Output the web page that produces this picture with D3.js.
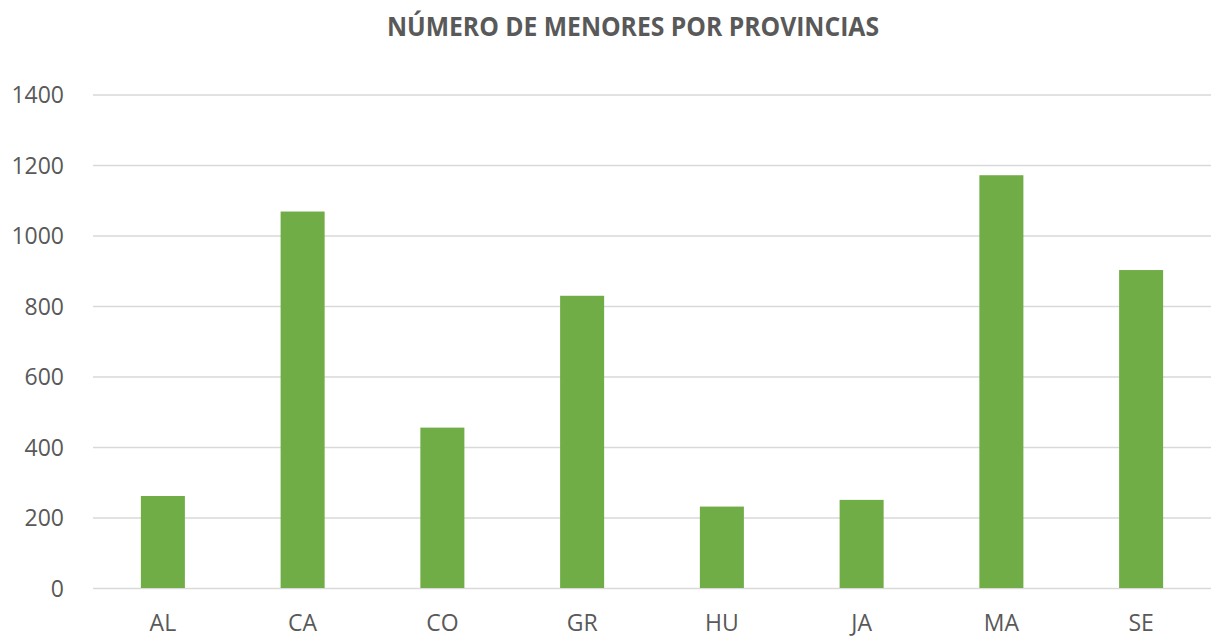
<!DOCTYPE html>
<html><head><meta charset="utf-8">
<script src="https://cdn.jsdelivr.net/npm/d3@7"></script>
<style>body{margin:0;background:#fff;} svg{display:block;}</style>
</head><body>
<svg id="c" width="1211" height="638"></svg>
<script>
const categories = ["AL","CA","CO","GR","HU","JA","MA","SE"];
const values = [261, 1068, 455, 829, 231, 250, 1171, 902];
const yTicks = [0,200,400,600,800,1000,1200,1400];
const title = "NÚMERO DE MENORES POR PROVINCIAS";

(function(){
const svg = d3.select("#c");
const W = 1211, H = 638;
const mLeft = 93, mRight = 1211, mTop = 94.5, mBottom = 588;
const font = "'Open Sans', 'Liberation Sans', sans-serif";
const grey = "#595959";

const x = d3.scaleBand().domain(categories).range([mLeft, mRight]).paddingInner(0.685).paddingOuter(0.3425);
const y = d3.scaleLinear().domain([0,1400]).range([mBottom, mTop]);

svg.append("rect").attr("width",W).attr("height",H).attr("fill","#fff");

svg.append("text").attr("x",633).attr("y",36).attr("text-anchor","middle")
  .attr("font-family",font).attr("font-weight","bold").attr("font-size",26)
  .attr("textLength",492).attr("lengthAdjust","spacingAndGlyphs")
  .attr("fill",grey).text(title);

const yAxis = d3.axisLeft(y).tickValues(yTicks).tickFormat(d3.format("d"))
  .tickSize(-(mRight-mLeft)).tickPadding(29);
const gy = svg.append("g").attr("transform",`translate(${mLeft},0)`).call(yAxis);
gy.select(".domain").remove();
gy.selectAll(".tick line").attr("stroke","#d9d9d9").attr("stroke-width",1.5);
gy.selectAll(".tick text").attr("font-family",font).attr("font-size",23).attr("fill",grey).attr("dy","0.35em");

svg.append("g").selectAll("rect").data(values).join("rect")
  .attr("x",(d,i)=>x(categories[i])).attr("width",x.bandwidth())
  .attr("y",d=>y(d)).attr("height",d=>y(0)-y(d)).attr("fill","#70ad47");

const xAxis = d3.axisBottom(x).tickSize(0).tickPadding(27);
const gx = svg.append("g").attr("transform",`translate(0,${mBottom})`).call(xAxis);
gx.select(".domain").remove();
gx.selectAll(".tick text").attr("font-family",font).attr("font-size",23).attr("fill",grey).attr("dy","0.71em");
})();
</script>
</body></html>
